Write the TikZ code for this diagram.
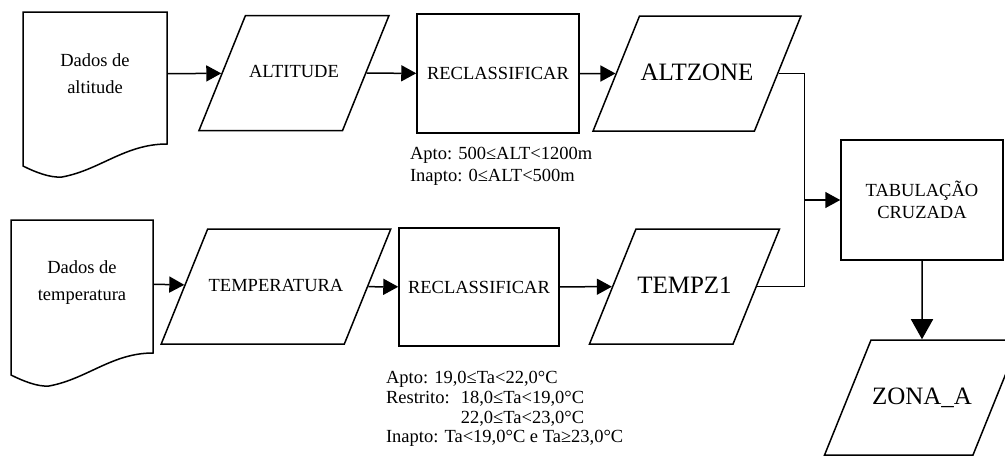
\documentclass[tikz,border=0pt]{standalone}
\usepackage{fontspec}
\setmainfont{Liberation Serif}
\usetikzlibrary{shapes.geometric,arrows.meta,positioning}

\begin{document}
\begin{tikzpicture}[x=1pt, y=-1pt, >={Triangle[length=15pt,width=16pt]}, line width=1.5pt,
        every node/.style={align=center, font=\fontsize{18.5}{22}\selectfont},
        io/.style={draw, trapezium, trapezium left angle=68, trapezium right angle=112,
            trapezium stretches body, minimum width=190pt, inner xsep=1pt,
            text height=12pt, text depth=3pt, inner ysep=50pt},
        bigtxt/.style={font=\fontsize{25}{28}\selectfont, text height=17pt, text depth=4pt, inner ysep=47pt},
        proc/.style={draw, rectangle, minimum width=#1, minimum height=119pt},
        doclabel/.style={minimum width=144pt, font=\fontsize{18.5}{27}\selectfont},
        note/.style={align=left, inner sep=0pt}]

        \useasboundingbox (0,0) rectangle (1005,459);
        \clip (0,0) rectangle (1005,459);

        % Documentos de entrada
        \draw (23,12) -- (167,12) -- (167,144) .. controls (125,144) and (100,170) .. (62,177)
            .. controls (50,178) and (35,172) .. (23,166) -- cycle;
        \draw (11,220) -- (153,220) -- (153,353) .. controls (112,353) and (87,379) .. (49,386)
            .. controls (38,387) and (23,381) .. (11,375) -- cycle;
        \node[doclabel] (dalt) at (95,74) {Dados de\\altitude};
        \node[doclabel, minimum width=142pt] (dtemp) at (82,283) {Dados de\\temperatura};

        % Linha da altitude
        \node[io] (alt) at (294,73) {ALTITUDE};
        \node[proc=162pt] (rec1) at (498,73.5) {RECLASSIFICAR};
        \node[io, bigtxt] (altz) at (697,73.5) {ALTZONE};
        \node[note, anchor=north west] (altnote) at ([xshift=-7pt,yshift=-13pt]rec1.south west)
            {Apto: 500≤ALT<1200m\\Inapto: 0≤ALT<500m};

        % Linha da temperatura
        \node[io] (temp) at (276,286.5) {TEMPERATURA};
        \node[proc=160pt, minimum height=118pt] (rec2) at (479,287) {RECLASSIFICAR};
        \node[io, bigtxt] (tempz) at (684.5,286.5) {TEMPZ1};
        \node[note, anchor=north west, font=\fontsize{18.5}{19.6}\selectfont] (tempnote)
            at ([xshift=-13pt,yshift=-24pt]rec2.south west)
            {Apto: 19,0≤Ta<22,0°C\\
             Restrito:\hspace{0.6em}18,0≤Ta<19,0°C\\
             \hphantom{Restrito:\hspace{0.6em}}22,0≤Ta<23,0°C\\
             Inapto: Ta<19,0°C e Ta≥23,0°C};

        % Cruzamento e resultado
        \node[proc=162pt, minimum height=120pt] (tab) at (922,200) {TABULAÇÃO\\CRUZADA};
        \node[io, bigtxt] (zona) at (922,397.5) {ZONA\_A};

        % Ligacoes
        \draw[->] (dalt) -- (alt);
        \draw[->] (alt) -- (rec1);
        \draw[->] (rec1) -- (altz);
        \draw[->] (dtemp) -- (temp);
        \draw[->] (temp) -- (rec2);
        \draw[->] (rec2) -- (tempz);
        \coordinate (junc) at ([xshift=-36pt]tab.west);
        \draw (altz.east) -| (junc);
        \draw (tempz.east) -| (junc);
        \draw[->] (junc) -- (tab);
        \draw[->, >={Triangle[length=20pt,width=22pt]}] (tab) -- (zona);

    \end{tikzpicture}
\end{document}
